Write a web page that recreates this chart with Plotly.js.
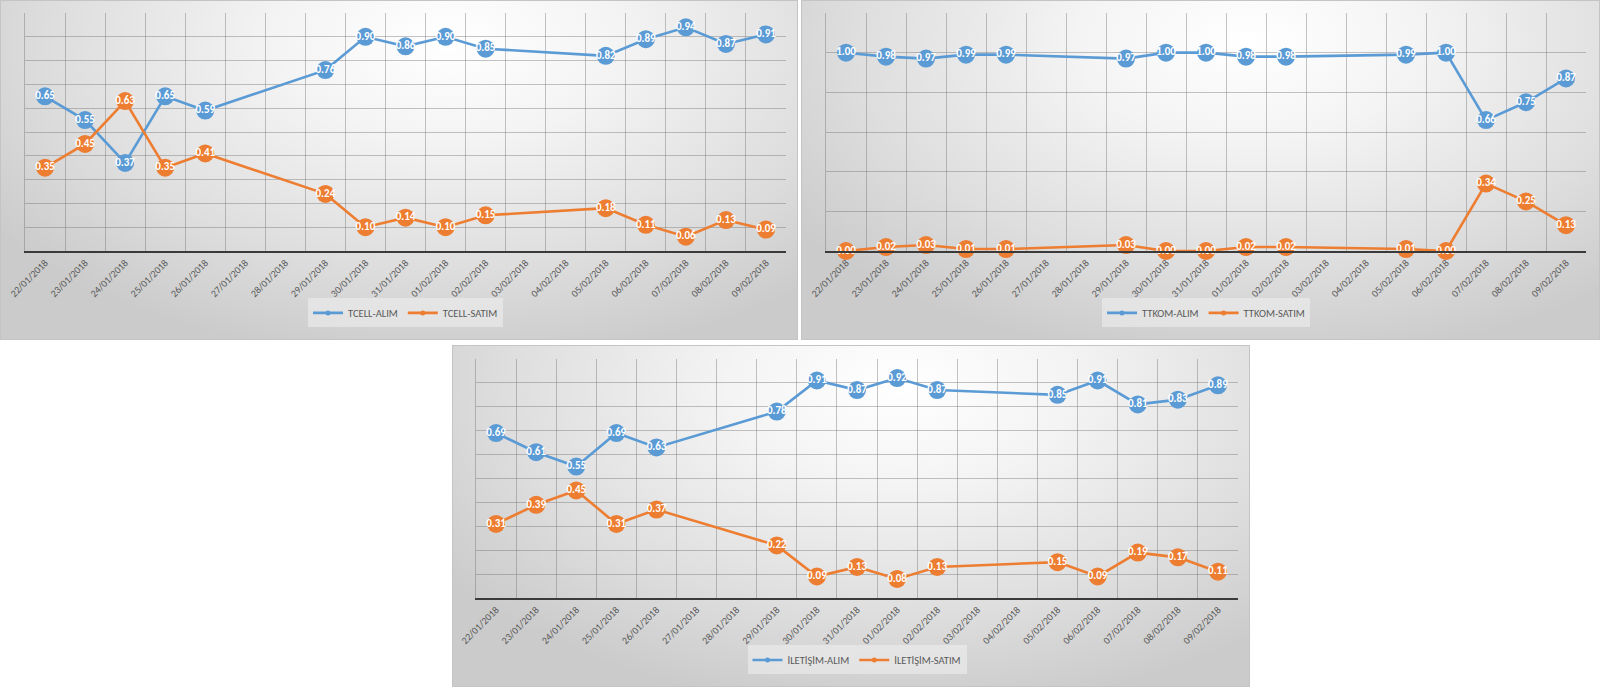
<!DOCTYPE html>
<html><head><meta charset="utf-8">
<script src="https://cdn.plot.ly/plotly-3.0.1.min.js"></script>
<style>
html,body{margin:0;padding:0;background:#fff;}
body{width:1600px;height:687px;position:relative;overflow:hidden;}
.panel{position:absolute;
 background:radial-gradient(ellipse 70% 95% at 56% 12%, #ffffff 0%, #f4f4f4 30%, #dedede 70%, #cbcbcb 100%);
 box-shadow:inset 0 0 0 1px #c4c4c4;}
</style></head><body>
<div id="c1" class="panel" style="left:0;top:0;width:798px;height:340px"></div>
<div id="c2" class="panel" style="left:801px;top:0;width:799px;height:340px"></div>
<div id="c3" class="panel" style="left:452px;top:345px;width:798px;height:342px"></div>
<script>
// all calendar days on the axis
const days = ['22/01/2018','23/01/2018','24/01/2018','25/01/2018','26/01/2018','27/01/2018','28/01/2018',
 '29/01/2018','30/01/2018','31/01/2018','01/02/2018','02/02/2018','03/02/2018','04/02/2018',
 '05/02/2018','06/02/2018','07/02/2018','08/02/2018','09/02/2018'];
// days with data
const tradingDays = ['22/01/2018','23/01/2018','24/01/2018','25/01/2018','26/01/2018',
 '29/01/2018','30/01/2018','31/01/2018','01/02/2018','02/02/2018',
 '05/02/2018','06/02/2018','07/02/2018','08/02/2018','09/02/2018'];

const tcellAlim  = [0.65,0.55,0.37,0.65,0.59,0.76,0.90,0.86,0.90,0.85,0.82,0.89,0.94,0.87,0.91];
const tcellSatim = [0.35,0.45,0.63,0.35,0.41,0.24,0.10,0.14,0.10,0.15,0.18,0.11,0.06,0.13,0.09];
const ttkomAlim  = [1.00,0.98,0.97,0.99,0.99,0.97,1.00,1.00,0.98,0.98,0.99,1.00,0.66,0.75,0.87];
const ttkomSatim = [0.00,0.02,0.03,0.01,0.01,0.03,0.00,0.00,0.02,0.02,0.01,0.00,0.34,0.25,0.13];
const iletAlim   = [0.69,0.61,0.55,0.69,0.63,0.78,0.91,0.87,0.92,0.87,0.85,0.91,0.81,0.83,0.89];
const iletSatim  = [0.31,0.39,0.45,0.31,0.37,0.22,0.09,0.13,0.08,0.13,0.15,0.09,0.19,0.17,0.11];

const BLUE = '#5B9BD5', ORANGE = '#ED7D31';
const FONT = "Carlito, 'Liberation Sans Narrow', 'DejaVu Sans Condensed', 'Open Sans', sans-serif";
const GRID = 'rgba(115,115,115,0.42)';

function series(name, vals, color){
  return {
    type:'scatter', mode:'lines+markers+text', x:tradingDays, y:vals, name:name,
    showlegend:false, cliponaxis:false,
    line:{color:color, width:2.6},
    marker:{color:color, size:18, line:{width:0}},
    texttemplate:'%{y:.2f}', textposition:'middle center',
    textfont:{color:'#ffffff', size:11, family:FONT, weight:'bold'},
    hoverinfo:'x+y'
  };
}
function legendItem(name, color){
  return {type:'scatter', mode:'lines+markers', x:[null], y:[null], name:name,
    line:{color:color, width:2.6}, marker:{color:color, size:5}, showlegend:true, hoverinfo:'skip'};
}

function draw(id, names, alim, satim, ymax, dtick, m, h){
  const plotH = h - m.t - m.b;
  const traces = [
    series(names[0], alim, BLUE),
    series(names[1], satim, ORANGE),
    legendItem(names[0], BLUE),
    legendItem(names[1], ORANGE)
  ];
  const layout = {
    width: m.w, height: h,
    margin:{l:m.l, r:m.r, t:m.t, b:m.b, pad:0},
    paper_bgcolor:'rgba(0,0,0,0)', plot_bgcolor:'rgba(0,0,0,0)',
    font:{family:FONT, color:'#595959', size:10},
    showlegend:true,
    legend:{orientation:'h', x:0.5, xanchor:'center', y:-(64/plotH), yanchor:'middle',
      bgcolor:'rgba(240,240,240,0.55)', font:{size:10.5, color:'#595959', family:FONT},
      itemwidth:30, traceorder:'normal', tracegroupgap:0},
    xaxis:{type:'category', categoryorder:'array', categoryarray:days,
      range:[-0.5, days.length-0.5], tickson:'boundaries',
      ticks:'outside', ticklen:7, tickcolor:'rgba(0,0,0,0)',
      showgrid:true, gridcolor:GRID, gridwidth:1,
      showline:true, linecolor:'#3a3a3a', linewidth:2, mirror:false,
      tickangle:-45, tickfont:{size:10, color:'#595959', family:FONT},
      fixedrange:true, zeroline:false},
    yaxis:{range:[0, ymax], dtick:dtick, tick0:0, showticklabels:false, ticks:'',
      showgrid:true, gridcolor:GRID, gridwidth:1,
      zeroline:false, showline:true, linecolor:GRID, linewidth:1, fixedrange:true}
  };
  Plotly.newPlot(id, traces, layout, {displayModeBar:false, staticPlot:true});
}

draw('c1', ['TCELL-ALIM','TCELL-SATIM'], tcellAlim, tcellSatim, 1.0, 0.1,
  {w:798, l:25, r:12, t:13, b:81}, 340);
draw('c2', ['TTKOM-ALIM','TTKOM-SATIM'], ttkomAlim, ttkomSatim, 1.2, 0.2,
  {w:799, l:25, r:14, t:13, b:81}, 340);
draw('c3', ['İLETİŞİM-ALIM','İLETİŞİM-SATIM'], iletAlim, iletSatim, 1.0, 0.1,
  {w:798, l:24, r:12, t:14, b:81}, 342);
</script>
</body></html>
